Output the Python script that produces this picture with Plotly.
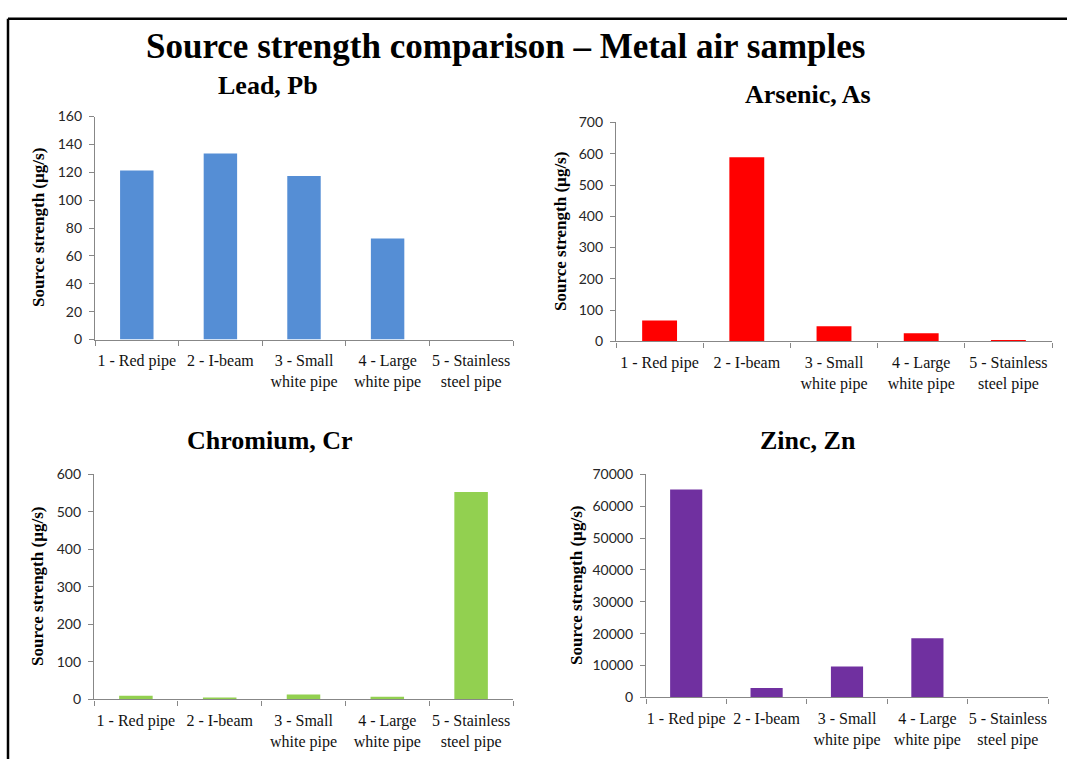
import plotly.graph_objects as go

W, H = 1067, 767

# Sample sites (category axis labels)
sites = [
    "1 - Red pipe",
    "2 - I-beam",
    "3 - Small<br>white pipe",
    "4 - Large<br>white pipe",
    "5 - Stainless<br>steel pipe",
]

# Source strength per site, µg/s
lead_pb = [121.2, 133.5, 117.4, 72.5, 0]
arsenic_as = [67, 589, 49, 26, 5]
chromium_cr = [9.5, 4.5, 13, 7, 553]
zinc_zn = [65300, 2970, 9700, 18600, 0]

panel_titles = ["Lead, Pb", "Arsenic, As", "Chromium, Cr", "Zinc, Zn"]
y_max = [160, 700, 600, 70000]
y_step = [20, 100, 100, 10000]
series = [lead_pb, arsenic_as, chromium_cr, zinc_zn]
colors = ["#558ED5", "#FF0000", "#92D050", "#7030A0"]

# Plot-area boxes in pixels: (left, top, right, bottom)
boxes = [
    (95, 110, 513, 338),
    (616, 116, 1052, 340),
    (94, 476, 513, 706),
    (646, 476, 1048, 704),
]
# Panel title centres and y-axis title x positions, in pixels
title_pos = [(268, 78), (808, 87), (270, 441), (808, 441)]
ytitle_x = [38, 561, 38, 577]


def px(x):
    return x / W


def py(y):
    return 1 - y / H


serif = "Liberation Serif, Times New Roman, serif"
axis_grey = "#878787"

fig = go.Figure()
annotations = []
layout_axes = {}

for i in range(4):
    n = "" if i == 0 else str(i + 1)
    l, t, r, b = boxes[i]
    fig.add_trace(
        go.Bar(
            x=sites,
            y=series[i],
            marker=dict(color=colors[i], line=dict(width=0)),
            xaxis="x" + n,
            yaxis="y" + n,
            showlegend=False,
            hoverinfo="x+y",
        )
    )
    layout_axes["xaxis" + n] = dict(
        domain=[px(l), px(r)],
        anchor="y" + n,
        type="category",
        range=[-0.5, 4.5],
        showline=True,
        linecolor=axis_grey,
        linewidth=1.3,
        ticks="outside",
        tickson="boundaries",
        ticklen=5,
        tickwidth=1.3,
        tickcolor=axis_grey,
        showgrid=False,
        tickfont=dict(family=serif, size=16, color="#111111"),
        ticklabelstandoff=6,
        tickangle=0,
    )
    layout_axes["yaxis" + n] = dict(
        domain=[py(b), py(t)],
        anchor="x" + n,
        range=[0, y_max[i]],
        dtick=y_step[i],
        tick0=0,
        tickformat="d",
        showline=True,
        linecolor=axis_grey,
        linewidth=1.3,
        ticks="outside",
        ticklen=5,
        tickwidth=1.3,
        tickcolor=axis_grey,
        showgrid=False,
        zeroline=False,
        tickfont=dict(family="Lato, Liberation Sans, sans-serif", size=14, color="#262626"),
        ticklabelstandoff=4,
    )
    annotations.append(
        dict(
            text="<b>%s</b>" % panel_titles[i],
            x=px(title_pos[i][0]),
            y=py(title_pos[i][1]),
            xref="paper",
            yref="paper",
            xanchor="center",
            yanchor="middle",
            showarrow=False,
            font=dict(family=serif, size=26, color="black"),
        )
    )
    annotations.append(
        dict(
            text="<b>Source strength (µg/s)</b>",
            x=px(ytitle_x[i]),
            y=py((t + b) / 2),
            xref="paper",
            yref="paper",
            xanchor="center",
            yanchor="middle",
            textangle=-90,
            showarrow=False,
            font=dict(family=serif, size=17, color="black"),
        )
    )

annotations.append(
    dict(
        text="<b>Source strength comparison – Metal air samples</b>",
        x=px(505),
        y=py(38),
        xref="paper",
        yref="paper",
        xanchor="center",
        yanchor="middle",
        showarrow=False,
        font=dict(family=serif, size=35, color="black"),
    )
)

# Slide frame: top and left rules
shapes = [
    dict(type="line", xref="paper", yref="paper", x0=px(8), x1=1, y0=py(10), y1=py(10),
         line=dict(color="black", width=2.5)),
    dict(type="line", xref="paper", yref="paper", x0=px(8), x1=px(8), y0=py(10), y1=0,
         line=dict(color="black", width=2.5)),
]

fig.update_layout(
    width=W,
    height=H,
    margin=dict(l=0, r=0, t=0, b=0),
    paper_bgcolor="white",
    plot_bgcolor="white",
    bargap=0.6,
    showlegend=False,
    annotations=annotations,
    shapes=shapes,
    **layout_axes,
)

fig.write_html("out.html")
